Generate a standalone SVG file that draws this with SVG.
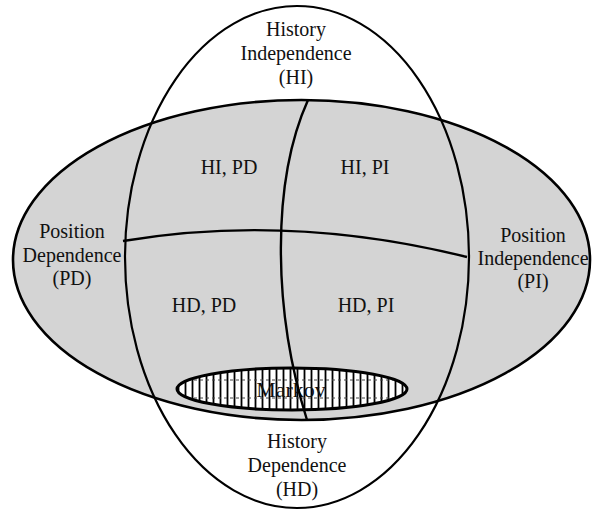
<svg xmlns="http://www.w3.org/2000/svg" width="592" height="510" viewBox="0 0 592 510">
  <style>
    .lbl { font-family: "Liberation Serif", "Times New Roman", serif; font-size: 20px; fill: #111; text-anchor: middle; }
    .edge { fill: none; stroke: #000; stroke-width: 2.4; }
  </style>
  <defs>
    <pattern id="vhatch" patternUnits="userSpaceOnUse" x="0" y="0" width="7" height="20">
      <rect width="7" height="20" fill="#fff"/>
      <line x1="3.5" y1="0" x2="3.5" y2="20" stroke="#000" stroke-width="1.8"/>
    </pattern>
    <clipPath id="markovClip">
      <ellipse cx="292" cy="389" rx="115" ry="21"/>
    </clipPath>
  </defs>
  <rect width="592" height="510" fill="#fff"/>

  <g id="position-region">
    <ellipse cx="301.5" cy="260" rx="288.5" ry="160" fill="#d4d4d4" stroke="#000" stroke-width="2.6"/>
  </g>

  <g id="history-region">
    <ellipse cx="297" cy="257" rx="172" ry="251" fill="none" stroke="#000" stroke-width="2.2"/>
  </g>

  <g id="markov">
    <ellipse cx="292" cy="389" rx="115" ry="21" fill="url(#vhatch)"/>
    <g clip-path="url(#markovClip)" stroke="#444" stroke-width="1" stroke-dasharray="3 3" fill="none">
      <line x1="170" y1="380" x2="410" y2="380"/>
      <line x1="170" y1="398" x2="410" y2="398"/>
    </g>
    <ellipse cx="292" cy="389" rx="115" ry="21" fill="none" stroke="#000" stroke-width="3"/>
    <text class="lbl" x="291" y="397" style="font-size:22px">Markov</text>
  </g>

  <g id="connectors">
    <path class="edge" d="M123,241 Q290,213 467,257"/>
    <path class="edge" d="M308,100 C272,180 272,308 307,420"/>
  </g>

  <g id="label-HI">
    <text class="lbl" x="296" y="36">History</text>
    <text class="lbl" x="296" y="60">Independence</text>
    <text class="lbl" x="296" y="84">(HI)</text>
  </g>
  <g id="label-HD">
    <text class="lbl" x="297" y="448">History</text>
    <text class="lbl" x="297" y="472">Dependence</text>
    <text class="lbl" x="297" y="496">(HD)</text>
  </g>
  <g id="label-PD">
    <text class="lbl" x="72" y="238">Position</text>
    <text class="lbl" x="72" y="262">Dependence</text>
    <text class="lbl" x="72" y="285">(PD)</text>
  </g>
  <g id="label-PI">
    <text class="lbl" x="533" y="242">Position</text>
    <text class="lbl" x="533" y="265">Independence</text>
    <text class="lbl" x="533" y="288">(PI)</text>
  </g>
  <g id="region-HI-PD"><text class="lbl" x="229" y="174">HI, PD</text></g>
  <g id="region-HI-PI"><text class="lbl" x="365" y="174">HI, PI</text></g>
  <g id="region-HD-PD"><text class="lbl" x="204" y="312">HD, PD</text></g>
  <g id="region-HD-PI"><text class="lbl" x="366" y="312">HD, PI</text></g>
</svg>
